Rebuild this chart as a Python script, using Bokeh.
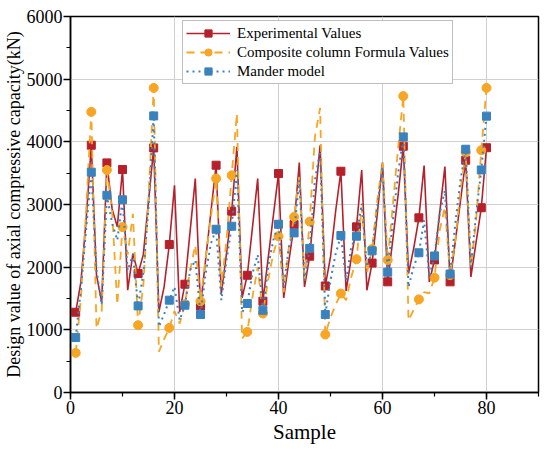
from bokeh.plotting import figure
from bokeh.models import (ColumnDataSource, Range1d, SingleIntervalTicker, Legend,
                          LegendItem, CDSView, IndexFilter)
from bokeh.embed import file_html
from bokeh.resources import INLINE

sample = list(range(1, 81))

experimental = [1281, 1765, 2750, 3946, 1872, 1446, 3664, 2930, 2643, 3558, 1632, 2217, 1898, 2200, 3050, 3903,
                1286, 1685, 2361, 3308, 1286, 1728, 2570, 3414, 1382, 2130, 2880, 3627, 1579, 2220, 2893, 3919,
                1510, 1871, 2640, 3414, 1457, 2136, 2815, 3494, 1510, 2100, 2680, 3670, 1685, 2175, 3050, 3946,
                1700, 2164, 2900, 3531, 1620, 2150, 2643, 3550, 1632, 2065, 2850, 3670, 1766, 2450, 3150, 3930,
                1898, 2300, 2787, 3620, 1765, 2115, 2870, 3605, 1766, 2410, 3060, 3707, 1845, 2400, 2948, 3906]

composite = [632, 1500, 2900, 4478, 1020, 1300, 3550, 2900, 1400, 2640, 2200, 2850, 1074, 1700, 3100, 4860,
             650, 850, 1031, 1300, 1100, 1409, 1950, 2350, 1457, 2160, 2800, 3414, 1685, 2430, 3467, 4451,
             860, 967, 1525, 2000, 1260, 1790, 2217, 2494, 1600, 2324, 2802, 3450, 1790, 2727, 4079, 4540,
             925, 1200, 1400, 1579, 1473, 1845, 2127, 2962, 1900, 2290, 3068, 3680, 2115, 3000, 3900, 4730,
             1150, 1320, 1486, 1600, 1580, 1832, 2590, 2962, 1872, 2430, 3227, 3830, 2005, 2749, 3866, 4860]

mander = [877, 1650, 2600, 3515, 1950, 1400, 3148, 2700, 2430, 3075, 1950, 2200, 1382, 1900, 2960, 4414,
          1050, 1250, 1473, 1685, 1154, 1393, 1950, 2111, 1244, 1900, 2377, 2605, 1473, 2111, 2653, 3550,
          1280, 1420, 1900, 2200, 1313, 2000, 2430, 2685, 1685, 2324, 2547, 3387, 1790, 2300, 3387, 3850,
          1244, 1790, 2217, 2505, 1790, 2324, 2494, 3015, 2005, 2260, 2962, 3600, 1920, 2749, 3494, 4079,
          1685, 2005, 2230, 2749, 1845, 2178, 2856, 3227, 1890, 2696, 3387, 3882, 2005, 2856, 3552, 4410]

labels = ["Experimental Values", "Composite column Formula Values", "Mander model"]
x_ticks_interval = 20
y_ticks_interval = 1000

marker_idx = list(range(0, 80, 3)) + [79]

src = ColumnDataSource(dict(x=sample, exp=experimental, comp=composite, mander=mander))
view = CDSView(filter=IndexFilter(marker_idx))

FONT = "Liberation Serif"
RED = "#B5202A"
ORANGE = "#F7A523"
BLUE = "#3A82BE"

p = figure(frame_width=468, frame_height=376, x_range=Range1d(0, 90), y_range=Range1d(0, 6000),
           output_backend="svg", toolbar_location=None,
           min_border_left=67, min_border_top=16, min_border_right=2, min_border_bottom=40)
p.background_fill_color = "white"
p.outline_line_color = "black"
p.outline_line_width = 1.5

r1 = p.line("x", "exp", source=src, line_color=RED, line_width=1.6)
m1 = p.scatter("x", "exp", source=src, view=view, marker="square", size=8, fill_color=RED, line_color=RED)
r2 = p.line("x", "comp", source=src, line_color=ORANGE, line_width=1.8, line_dash="8 6")
m2 = p.scatter("x", "comp", source=src, view=view, marker="circle", size=9, fill_color=ORANGE, line_color=ORANGE)
r3 = p.line("x", "mander", source=src, line_color=BLUE, line_width=2, line_dash="2 4")
m3 = p.scatter("x", "mander", source=src, view=view, marker="square", size=8, fill_color=BLUE, line_color=BLUE)

p.xaxis.ticker = SingleIntervalTicker(interval=x_ticks_interval, num_minor_ticks=2)
p.yaxis.ticker = SingleIntervalTicker(interval=y_ticks_interval, num_minor_ticks=2)

for ax in (p.xaxis[0], p.yaxis[0]):
    ax.axis_line_color = "black"
    ax.axis_line_width = 1.5
    ax.major_tick_line_color = "black"
    ax.major_tick_line_width = 1.5
    ax.minor_tick_line_color = "black"
    ax.minor_tick_line_width = 1.2
    ax.major_tick_out = 7
    ax.major_tick_in = 0
    ax.minor_tick_out = 4
    ax.minor_tick_in = 0
    ax.major_label_text_font = FONT
    ax.major_label_text_font_size = "18px"
    ax.major_label_text_color = "black"
    ax.axis_label_text_font = FONT
    ax.axis_label_text_font_style = "normal"
    ax.axis_label_text_color = "black"
    ax.major_label_standoff = 1

p.xaxis.axis_label = "Sample"
p.xaxis.axis_label_text_font_size = "21px"
p.xaxis.axis_label_standoff = 3
p.yaxis.axis_label = "Design value of axial compressive capacity(kN)"
p.yaxis.axis_label_text_font_size = "18px"
p.yaxis.axis_label_standoff = 0

p.xgrid.grid_line_color = "#d0d0d0"
p.ygrid.grid_line_color = "#d0d0d0"
p.xgrid.grid_line_width = 1
p.ygrid.grid_line_width = 1

legend = Legend(items=[LegendItem(label=labels[0], renderers=[r1, m1]),
                       LegendItem(label=labels[1], renderers=[r2, m2]),
                       LegendItem(label=labels[2], renderers=[r3, m3])],
                location=(112, 308))
legend.label_text_font = FONT
legend.label_text_font_size = "15px"
legend.label_text_color = "black"
legend.glyph_width = 44
legend.glyph_height = 18
legend.label_height = 18
legend.label_standoff = 7
legend.spacing = 1
legend.padding = 3
legend.margin = 0
legend.border_line_color = "#808080"
legend.border_line_width = 1
legend.background_fill_alpha = 1
p.add_layout(legend, "center")

open("out.html", "w").write(file_html(p, INLINE))
